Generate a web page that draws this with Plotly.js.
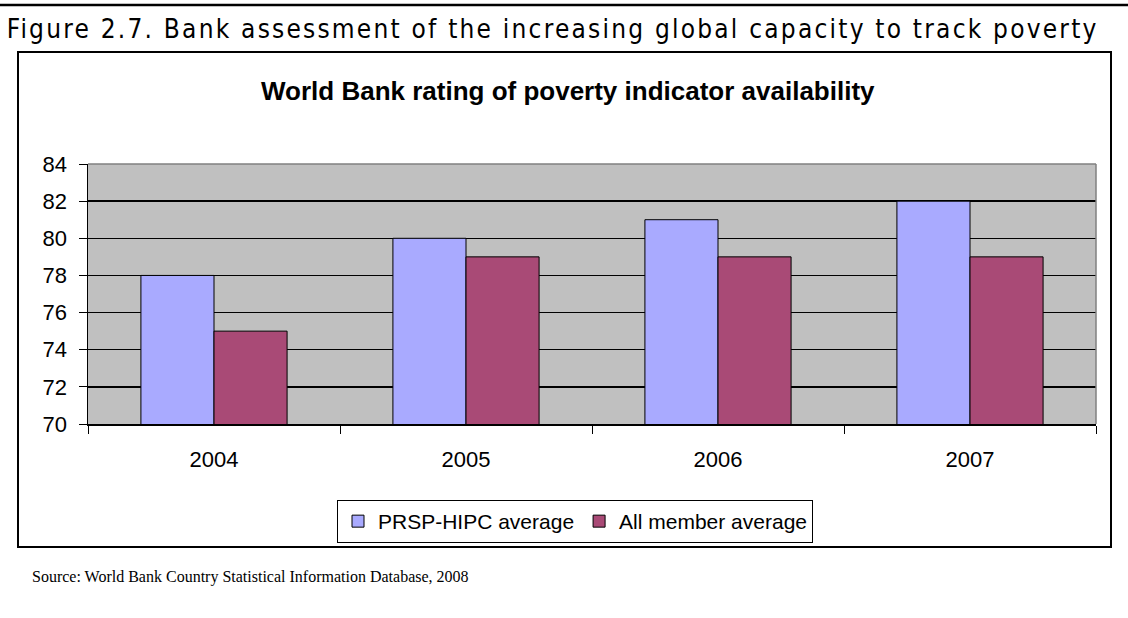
<!DOCTYPE html>
<html>
<head>
<meta charset="utf-8">
<script src="https://cdn.plot.ly/plotly-3.0.1.min.js"></script>
<style>
html,body{margin:0;padding:0;background:#fff;}
#chart{width:1128px;height:618px;}
g.annotation[data-index="0"] text{font-stretch:condensed;}
</style>
</head>
<body>
<div id="chart"></div>
<script>
const years = ["2004", "2005", "2006", "2007"];
const prspHipc = [78, 80, 81, 82];
const allMember = [75, 79, 79, 79];
const seriesNames = ["PRSP-HIPC average", "All member average"];
const yTicks = [70, 72, 74, 76, 78, 80, 82, 84];

const W = 1128, H = 618;
const L = 88, R = 1096, T = 164, B = 424;
const px = v => (v - L) / (R - L);
const py = v => (B - v) / (B - T);

const FIG_LEFT = 6, FIG_RIGHT = 1098;

const traces = [
  {type: "bar", name: seriesNames[0], x: years, y: prspHipc,
   marker: {color: "#A9AAFF", line: {color: "#000", width: 1}}},
  {type: "bar", name: seriesNames[1], x: years, y: allMember,
   marker: {color: "#A94A76", line: {color: "#000", width: 1}}}
];

const layout = {
  width: W, height: H,
  margin: {l: L, r: W - R, t: T, b: H - B, pad: 0},
  paper_bgcolor: "#fff",
  plot_bgcolor: "#C0C0C0",
  font: {family: "Liberation Sans, Arial, sans-serif", color: "#000", size: 22},
  barmode: "group",
  bargap: 0.42,
  bargroupgap: 0,
  showlegend: true,
  legend: {
    orientation: "h", x: px(575), xanchor: "center", y: py(500), yanchor: "top",
    bordercolor: "#000", borderwidth: 1, bgcolor: "#fff",
    font: {size: 21}, itemwidth: 30, tracegroupgap: 0
  },
  xaxis: {
    type: "category", tickson: "boundaries", ticks: "outside", ticklen: 8,
    tickcolor: "#000", showline: true, linecolor: "#000", linewidth: 1.5,
    showgrid: false, ticklabelstandoff: 15, tickfont: {size: 22}
  },
  yaxis: {
    range: [70, 84], tickvals: yTicks, ticktext: yTicks.map(String),
    ticks: "outside", ticklen: 8, tickcolor: "#000",
    showline: true, linecolor: "#000", linewidth: 1.5,
    showgrid: true, gridcolor: "#000", gridwidth: 1.3, zeroline: false,
    ticklabelstandoff: 7, tickfont: {size: 22}
  },
  shapes: [
    {type: "line", xref: "paper", yref: "paper", x0: px(0), x1: px(W), y0: py(5), y1: py(5),
     line: {color: "#000", width: 2.5}},
    {type: "rect", xref: "paper", yref: "paper", x0: px(18), x1: px(1111), y0: py(52), y1: py(547),
     line: {color: "#000", width: 2}, layer: "below"},
    {type: "line", xref: "paper", yref: "paper", x0: 0, x1: 1, y0: 1, y1: 1,
     line: {color: "#808080", width: 1.5}},
    {type: "line", xref: "paper", yref: "paper", x0: 1, x1: 1, y0: 0, y1: 1,
     line: {color: "#808080", width: 1.5}}
  ],
  annotations: [
    {text: "Figure 2.7. Bank assessment of the increasing global capacity to track poverty",
     xref: "paper", yref: "paper", x: px((FIG_LEFT + FIG_RIGHT) / 2), y: py(29), xanchor: "center", yanchor: "middle",
     showarrow: false, font: {family: "DejaVu Sans Condensed, DejaVu Sans, sans-serif", size: 26}},
    {text: "<b>World Bank rating of poverty indicator availability</b>",
     xref: "paper", yref: "paper", x: px(568), y: py(91), xanchor: "center", yanchor: "middle",
     showarrow: false, font: {size: 26}},
    {text: "Source: World Bank Country Statistical Information Database, 2008",
     xref: "paper", yref: "paper", x: px(30), y: py(577), xanchor: "left", yanchor: "middle",
     showarrow: false, font: {family: "Liberation Serif, Times New Roman, serif", size: 16}}
  ]
};

Plotly.newPlot("chart", traces, layout, {displayModeBar: false, staticPlot: true}).then(() => {
  const t = document.querySelector('g.annotation[data-index="0"] text');
  if (t) {
    const w0 = t.getComputedTextLength();
    const n = t.textContent.length;
    const s = (FIG_RIGHT - FIG_LEFT - w0) / n;
    t.style.letterSpacing = s + "px";
  }
});
</script>
</body>
</html>
